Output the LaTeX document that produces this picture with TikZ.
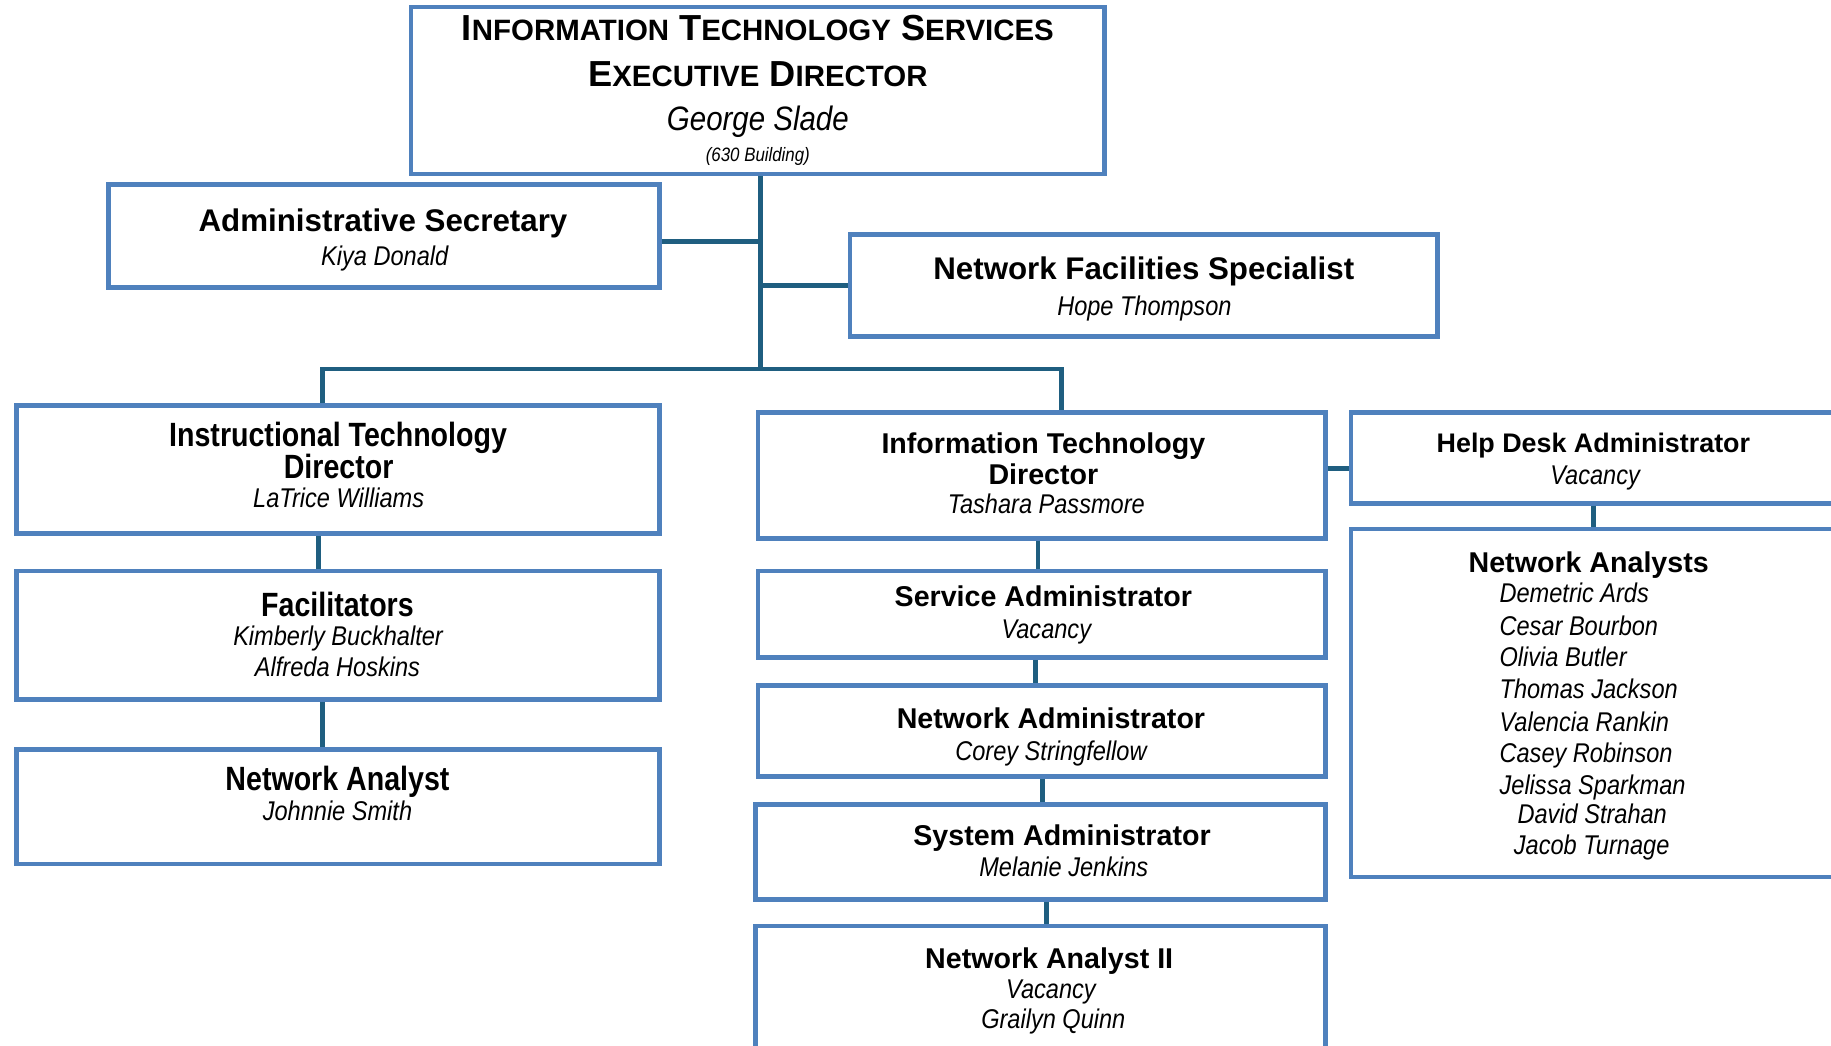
\documentclass[tikz,border=0pt]{standalone}
\usepackage{fontspec}
\setmainfont{Liberation Sans}
\newfontfamily\nrwfam[FakeStretch=0.85]{Liberation Sans}
\newfontfamily\nmfam[FakeStretch=0.87]{Liberation Sans}
\usetikzlibrary{calc}
\definecolor{boxblue}{HTML}{4F81BD}
\definecolor{linkblue}{HTML}{1F5E80}
\newcommand\scpart[2]{#1{\fontsize{25.2}{38}\selectfont #2}}
\tikzset{
  box/.style={draw=boxblue, line width=4pt, rectangle, inner sep=0pt, fill=white},
  conn/.style={draw=linkblue, line width=4pt, line join=miter},
  ln/.style={anchor=base, inner sep=0pt},
  tTop/.style={ln, font=\fontsize{31}{38}\selectfont\bfseries},
  tA/.style={ln, font=\fontsize{26.8}{30}\selectfont\bfseries},
  tL/.style={ln, font=\nrwfam\fontsize{28.8}{30}\selectfont\bfseries},
  tR/.style={ln, font=\fontsize{24.5}{27}\selectfont\bfseries},
  nmS/.style={ln, font=\nmfam\fontsize{23.2}{27}\selectfont\itshape},
  nmL/.style={nmS, anchor=base west},
}
\begin{document}
\begin{tikzpicture}[x=1pt, y=-1pt]
\useasboundingbox (0,0) rectangle (1568,895);
\fill[white] (0,0) rectangle (1568,895);

% boxes
\node[box, minimum width=594pt, minimum height=143pt] (exec) at (649,77.5) {};
\node[box, minimum width=472pt, minimum height=88pt]  (adm)  at (329,202) {};
\node[box, minimum width=503pt, minimum height=87pt]  (nfs)  at (979.5,244.5) {};
\node[box, minimum width=551pt, minimum height=110pt] (itd)  at (289.5,402) {};
\node[box, minimum width=551pt, minimum height=110pt] (fac)  at (289.5,544) {};
\node[box, minimum width=551pt, minimum height=98pt]  (na)   at (289.5,691) {};
\node[box, minimum width=486pt, minimum height=108pt] (itd2) at (892,407) {};
\node[box, minimum width=486pt, minimum height=74pt]  (sa)   at (892,526) {};
\node[box, minimum width=486pt, minimum height=78pt]  (nadm) at (892,626) {};
\node[box, minimum width=488pt, minimum height=81pt]  (sysa) at (891,729.5) {};
\node[box, minimum width=488pt, minimum height=114pt] (na2)  at (891,850) {};
\node[box, minimum width=415pt, minimum height=78pt]  (hda)  at (1364.5,392) {};
\node[box, minimum width=415pt, minimum height=298pt] (nas)  at (1364.5,602) {};

% connectors
\coordinate (jTop) at (651,316);
\coordinate (barL) at (276,316);
\coordinate (barR) at (909,316);
\draw[conn] (exec.south -| jTop) -- (jTop);
\draw[conn] ([yshift=-5pt]adm.east) -- ([yshift=-5pt]adm.east -| jTop);
\draw[conn] (nfs.west) -- (nfs.west -| jTop);
\draw[conn] (itd.north -| barL) -- (barL) -- (barR) -- (itd2.north -| barR);
\draw[conn] ([xshift=-16.5pt]itd.south) -- ([xshift=-16.5pt]itd.south |- fac.north);
\draw[conn] ([xshift=-13.5pt]fac.south) -- ([xshift=-13.5pt]fac.south |- na.north);
\draw[conn] ([xshift=-3pt]itd2.south) -- ([xshift=-3pt]itd2.south |- sa.north);
\draw[conn] ([xshift=-5pt]sa.south) -- ([xshift=-5pt]sa.south |- nadm.north);
\draw[conn] ([xshift=1pt]nadm.south) -- ([xshift=1pt]nadm.south |- sysa.north);
\draw[conn] ([xshift=5pt]sysa.south) -- ([xshift=5pt]sysa.south |- na2.north);
\draw[conn] ([yshift=6pt]itd2.east) -- ([yshift=6pt]itd2.east -| hda.west);
\draw[conn] (hda.south) -- (nas.north);

% texts
\node[tTop] (execA) at (649,35) {\scpart{I}{NFORMATION} \scpart{T}{ECHNOLOGY} \scpart{S}{ERVICES}};
\node[tTop] (execB) at (649,74) {\scpart{E}{XECUTIVE} \scpart{D}{IRECTOR}};
\node[ln, font=\nmfam\fontsize{29}{34}\selectfont\itshape] (execC) at (649,112) {George Slade};
\node[ln, font=\nmfam\fontsize{16.6}{20}\selectfont\itshape] (execD) at (649,138) {(630 Building)};

\node[tA] (admA) at (328,198.5) {Administrative Secretary};
\node[nmS] (admB) at (329.5,227) {Kiya Donald};

\node[tA] (nfsA) at (979.5,239.5) {Network Facilities Specialist};
\node[nmS] (nfsB) at (980,270) {Hope Thompson};

\node[tL] (itdA) at (289.5,382) {Instructional Technology};
\node[tL] (itdB) at (290,410) {Director};
\node[nmS] (itdC) at (290,435) {LaTrice Williams};

\node[tL] (facA) at (289,528) {Facilitators};
\node[nmS] (facB) at (289.5,553) {Kimberly Buckhalter};
\node[nmS] (facC) at (289,579) {Alfreda Hoskins};

\node[tL] (naA) at (289,677) {Network Analyst};
\node[nmS] (naB) at (289,703) {Johnnie Smith};

\node[tR] (itd2A) at (893.5,388) {Information Technology};
\node[tR] (itd2B) at (893.5,415) {Director};
\node[nmS] (itd2C) at (896,440) {Tashara Passmore};

\node[tR] (saA) at (893.5,519) {Service Administrator};
\node[nmS] (saB) at (896,547) {Vacancy};

\node[tR] (nadmA) at (900,624) {Network Administrator};
\node[nmS] (nadmB) at (900,651) {Corey Stringfellow};

\node[tR] (sysaA) at (909.5,724) {System Administrator};
\node[nmS] (sysaB) at (911,751) {Melanie Jenkins};

\node[tR] (na2A) at (898.5,829) {Network Analyst II};
\node[nmS] (na2B) at (900,855) {Vacancy};
\node[nmS] (na2C) at (902,881) {Grailyn Quinn};

\node[tR, font=\fontsize{23}{27}\selectfont\bfseries] (hdaA) at (1364.5,387.5) {Help Desk Administrator};
\node[nmS] (hdaB) at (1366,415) {Vacancy};

\node[tR] (nasA) at (1360.5,490) {Network Analysts};
\node[nmL] (nas1) at (1284,516) {Demetric Ards};
\node[nmL] (nas2) at (1284,544) {Cesar Bourbon};
\node[nmL] (nas3) at (1284,571) {Olivia Butler};
\node[nmL] (nas4) at (1284,598) {Thomas Jackson};
\node[nmL] (nas5) at (1284,626) {Valencia Rankin};
\node[nmL] (nas6) at (1284,653) {Casey Robinson};
\node[nmL] (nas7) at (1284,680) {Jelissa Sparkman};
\node[nmS] (nas8) at (1363.5,705) {David Strahan};
\node[nmS] (nas9) at (1363,732) {Jacob Turnage};
\end{tikzpicture}
\end{document}
